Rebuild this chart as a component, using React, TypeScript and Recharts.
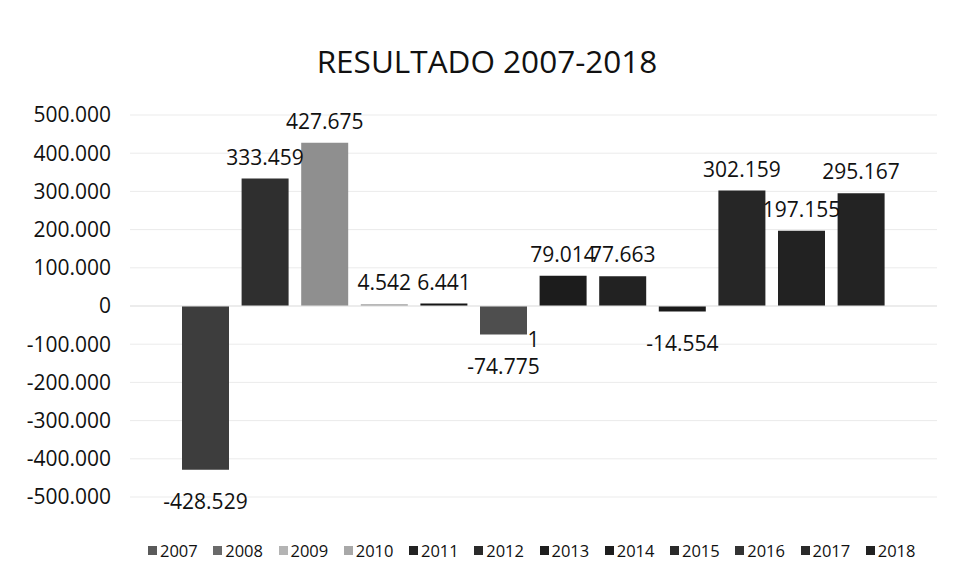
import React from 'react';
import { BarChart, Bar, XAxis, YAxis, CartesianGrid, Legend, ReferenceLine, LabelList } from 'recharts';

const years = ['2007', '2008', '2009', '2010', '2011', '2012', '2013', '2014', '2015', '2016', '2017', '2018'];
const values = [-428529, 333459, 427675, 4542, 6441, -74775, 79014, 77663, -14554, 302159, 197155, 295167];
const barColors = ['#3d3d3d', '#2f2f2f', '#8f8f8f', '#a0a0a0', '#151515', '#4e4e4e', '#1c1c1c', '#222222', '#1a1a1a', '#262626', '#222222', '#232323'];
const legendColors = ['#5a5a5a', '#6a6a6a', '#b4b4b4', '#a8a8a8', '#222222', '#2a2a2a', '#1e1e1e', '#1e1e1e', '#2a2a2a', '#333333', '#2a2a2a', '#222222'];
const yTicks = [-500000, -400000, -300000, -200000, -100000, 0, 100000, 200000, 300000, 400000, 500000];
const categoryLabel = '1';
const title = 'RESULTADO 2007-2018';

const FONT = '"Open Sans", "Noto Sans", sans-serif';

const row: Record<string, string | number> = { cat: categoryLabel };
years.forEach((y, i) => {
  row['y' + y] = values[i];
});
const data = [row];

const fmt = (v: number) => {
  const s = Math.abs(v).toString().replace(/\B(?=(\d{3})+(?!\d))/g, '.');
  return (v < 0 ? '-' : '') + s;
};

const renderLabel = (props: any) => {
  const x = Number(props.x);
  const y = Number(props.y);
  const w = Number(props.width);
  const h = Number(props.height);
  const v = Number(props.value);
  const top = Math.min(y, y + h);
  const bottom = Math.max(y, y + h);
  const cx = x + w / 2;
  const neg = v < 0;
  return (
    <text x={cx} y={neg ? bottom + 39 : top - 14} textAnchor="middle" fontSize={21} fill="#111" fontFamily={FONT}>
      {fmt(v)}
    </text>
  );
};

const renderLegend = () => (
  <div
    style={{
      display: 'flex',
      justifyContent: 'flex-start',
      alignItems: 'center',
      height: 24,
      paddingLeft: 148,
      fontFamily: FONT,
      fontSize: 16.5,
      color: '#111',
      whiteSpace: 'nowrap',
    }}
  >
    {years.map((y, i) => (
      <span key={y} style={{ display: 'inline-flex', alignItems: 'center', marginRight: 15.5 }}>
        <span style={{ display: 'inline-block', width: 9, height: 9, background: legendColors[i], marginRight: 3 }} />
        {y}
      </span>
    ))}
  </div>
);

export default function App() {
  return (
    <div style={{ position: 'absolute', left: 0, top: 0, width: 958, height: 562, background: '#fff' }}>
      <BarChart
        width={958}
        height={562}
        data={data}
        margin={{ top: 115, right: 21, bottom: 41, left: 2 }}
        barSize={47}
        barGap={12.6}
      >
        <text x={487} y={73} textAnchor="middle" fontSize={31.5} fill="#111" fontFamily={FONT}>
          {title}
        </text>
        <CartesianGrid vertical={false} stroke="#ebebeb" />
        <XAxis dataKey="cat" hide />
        <YAxis
          domain={[-500000, 500000]}
          ticks={yTicks}
          tickFormatter={fmt}
          axisLine={false}
          tickLine={false}
          width={128}
          tickMargin={13}
          interval={0}
          tick={{ fontSize: 21, fill: '#111', fontFamily: FONT }}
        />
        <ReferenceLine
          y={0}
          stroke="#e3e3e3"
          label={{ value: categoryLabel, position: 'bottom', offset: 26, fontSize: 21, fill: '#111', fontFamily: FONT }}
        />
        {years.map((y, i) => (
          <Bar key={y} dataKey={'y' + y} name={y} fill={barColors[i]} isAnimationActive={false}>
            <LabelList dataKey={'y' + y} content={renderLabel} />
          </Bar>
        ))}
        <Legend verticalAlign="bottom" content={renderLegend} wrapperStyle={{ left: 0, width: 958, bottom: 0, height: 24 }} />
      </BarChart>
    </div>
  );
}
